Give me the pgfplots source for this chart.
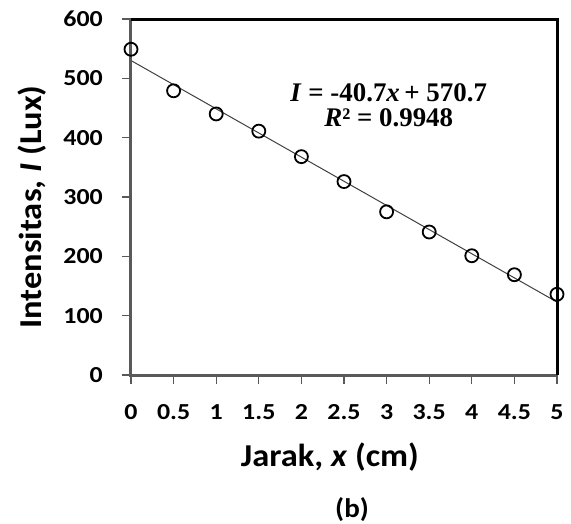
\documentclass[border=0pt]{standalone}
\usepackage{fontspec}
\setmainfont{Carlito}[FakeStretch=1.08]
\newfontfamily\tickfont{Carlito}[FakeStretch=1.13]
\newfontfamily\tnr{Liberation Serif}
\usepackage{pgfplots}
\pgfplotsset{compat=1.18}
\definecolor{axgray}{HTML}{595959}
\definecolor{trend}{HTML}{404040}

\pgfplotstableread{
x     y
0     549
0.5   479
1     440
1.5   411
2     368
2.5   326
3     275
3.5   241
4     201
4.5   169
5     136
}\lux

\begin{document}
\begin{tikzpicture}
\path[use as bounding box] (-131bp,-149bp) rectangle (440bp,375bp);
\begin{axis}[
    at={(0,0)}, anchor=south west,
    scale only axis,
    width=426bp, height=356bp,
    xmin=0, xmax=5,
    ymin=0, ymax=600,
    xtick={0,0.5,1,1.5,2,2.5,3,3.5,4,4.5,5},
    ytick={0,100,200,300,400,500,600},
    axis line style={draw=none},
    tick align=outside,
    major tick length=9bp,
    tick style={axgray, line width=1.2bp},
    xtick pos=bottom, ytick pos=left,
    /pgf/number format/assume math mode=true,
    ticklabel style={font=\tickfont\bfseries\fontsize{23}{23}\selectfont, inner sep=0pt},
    xticklabel style={anchor=center, yshift=-28bp},
    yticklabel style={anchor=east, xshift=-19bp},
    xlabel={Jarak, \textit{x} (cm)},
    ylabel={Intensitas, \textit{I} (Lux)},
    every axis x label/.style={at={(axis description cs:0.467,-0.230)}, anchor=center,
        font=\bfseries\fontsize{32}{32}\selectfont},
    every axis y label/.style={at={(axis description cs:-0.232,0.472)}, anchor=center, rotate=90,
        font=\bfseries\fontsize{32}{32}\selectfont},
    clip=false,
]
\addplot[trend, line width=1bp] coordinates {(0,530.0) (5,123.0)};
\addplot[only marks, mark=o, mark size=6.5bp,
    mark options={draw=black, fill=white, line width=1.8bp}] table[x=x, y=y] {\lux};

\draw[axgray, line width=3bp] (rel axis cs:0,1) -- (rel axis cs:0,0) -- (rel axis cs:1,0);
\draw[black, line width=3bp] (rel axis cs:0,1) -- (rel axis cs:1,1) -- (rel axis cs:1,0);

\node[align=center, font=\tnr\bfseries\fontsize{27}{25}\selectfont]
    at (axis description cs:0.605,0.757)
    {\textit{I} = -40.7\textit{x}\,+ 570.7\\\textit{R}² = 0.9948};
\node[font=\bfseries\fontsize{27}{27}\selectfont]
    at (axis description cs:0.519,-0.379) {(b)};
\end{axis}
\end{tikzpicture}
\end{document}
